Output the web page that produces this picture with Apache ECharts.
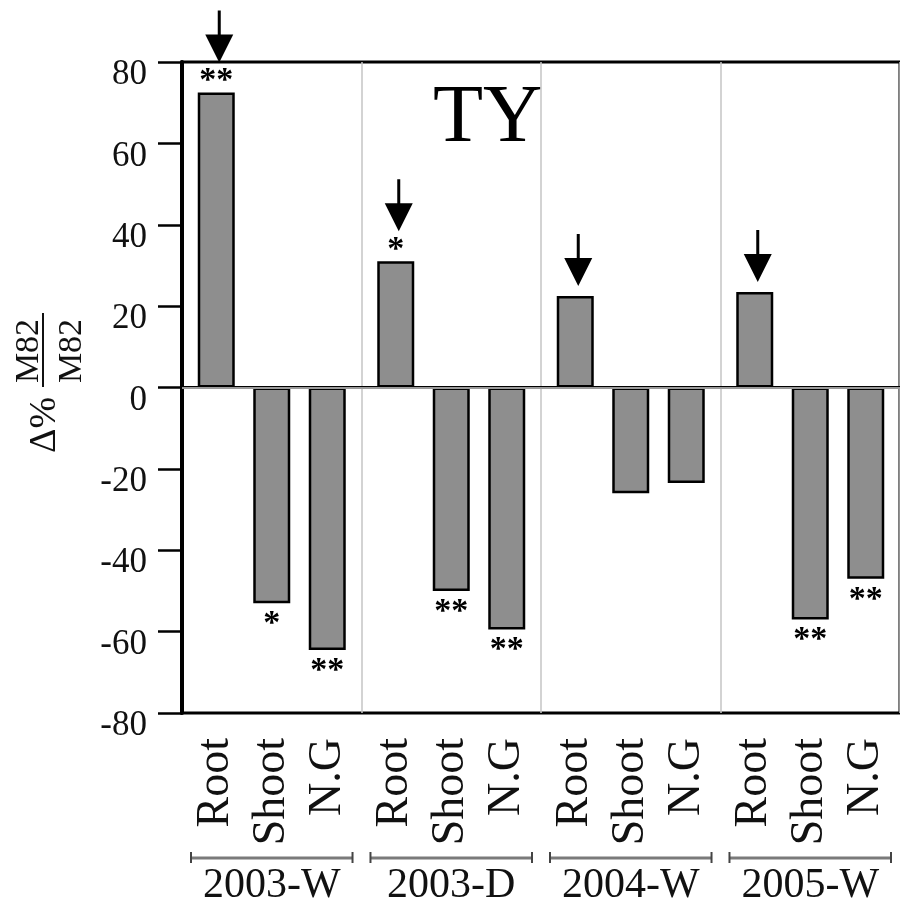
<!DOCTYPE html>
<html><head><meta charset="utf-8">
<script src="https://cdn.jsdelivr.net/npm/echarts@6/dist/echarts.min.js"></script>
<style>html,body{margin:0;padding:0;background:#fff}#c{width:900px;height:907px}</style>
</head><body><div id="c"></div>
<script>
// ---- data ----
const groups = ['2003-W', '2003-D', '2004-W', '2005-W'];
const parts = ['Root', 'Shoot', 'N.G'];
const rootVals = [72.5, 31, 22.5, 23.5];
const shootVals = [-53, -50, -26, -57];
const ngVals = [-64.5, -59.5, -23.5, -47];
const rootSig = ['**', '*', '', ''];
const shootSig = ['*', '**', '', '**'];
const ngSig = ['**', '**', '', '**'];
const yMin = -80, yMax = 80, yStep = 20;
const panelLabel = 'TY';

// ---- styles ----
const SERIF = "'Liberation Serif', 'Times New Roman', serif";
const INK = '#111';
const chart = echarts.init(document.getElementById('c'), null, {renderer: 'canvas'});

function items(vals, sig) {
  return vals.map((v, i) => ({
    value: v,
    label: {distance: v >= 0 ? -6 : 4, formatter: sig[i]}
  }));
}
function barSeries(name, vals, sig) {
  return {
    name, type: 'bar', xAxisIndex: 0, yAxisIndex: 0,
    barWidth: 37, barGap: '50%',
    itemStyle: {color: '#8e8e8e', borderColor: '#000', borderWidth: 2.5},
    label: {show: true, position: 'outside', fontFamily: SERIF, fontSize: 34,
            fontWeight: 'bold', color: '#000'},
    data: items(vals, sig)
  };
}

const arrowPath = 'path://M12.5,0 L15.5,0 L15.5,24 L28,24 L14,52 L0,24 L12.5,24 Z';
const rootSeries = barSeries('Root', rootVals, rootSig);
rootSeries.markPoint = {
  silent: true,
  symbol: arrowPath,
  symbolSize: [28, 52],
  itemStyle: {color: '#000'},
  label: {show: false},
  data: rootVals.map((v, i) => ({
    coord: [groups[i], v],
    symbolOffset: [3, -(26 + (rootSig[i] ? 30 : 10))]
  }))
};
const shootSeries = barSeries('Shoot', shootVals, shootSig);
shootSeries.markLine = {
  silent: true, symbol: 'none', label: {show: false},
  lineStyle: {color: '#9a9a9a', width: 2, type: 'solid'},
  data: [{yAxis: 0}]
};

chart.setOption({
  animation: false,
  backgroundColor: '#fff',
  title: {text: panelLabel, left: 428, top: 73,
          textStyle: {fontFamily: SERIF, fontSize: 82, fontWeight: 'normal', color: '#000'}},
  grid: {left: 182, top: 62, width: 721, height: 651,
         show: true, borderColor: '#000', borderWidth: 3, backgroundColor: 'transparent'},
  xAxis: [{
    type: 'category', data: groups, position: 'bottom',
    axisLine: {lineStyle: {color: '#000', width: 3}},
    axisTick: {show: false},
    splitLine: {show: true, interval: 0, lineStyle: {color: '#c4c4c4', width: 1.5}},
    axisLabel: {interval: 0, rotate: 90, margin: 25, fontFamily: SERIF, fontSize: 46,
                lineHeight: 56, color: INK, formatter: () => parts.join('\n')}
  }, {
    type: 'category', data: groups, position: 'bottom', offset: 150,
    axisLine: {show: false}, axisTick: {show: false}, splitLine: {show: false},
    axisLabel: {interval: 0, margin: 2, fontFamily: SERIF, fontSize: 42, color: INK}
  }],
  yAxis: {
    type: 'value', min: yMin, max: yMax, interval: yStep,
    axisLine: {show: true, lineStyle: {color: '#000', width: 4}},
    axisTick: {show: true, length: 24, lineStyle: {color: '#000', width: 2.5}},
    splitLine: {show: false},
    axisLabel: {margin: 35, fontFamily: SERIF, fontSize: 35, color: INK,
                verticalAlign: 'top', lineHeight: 26}
  },
  series: [rootSeries, shootSeries, barSeries('N.G', ngVals, ngSig)]
});

// group brackets and y-axis title
const c0 = chart.convertToPixel({xAxisIndex: 0}, groups[0]);
const c1 = chart.convertToPixel({xAxisIndex: 0}, groups[1]);
const half = (c1 - c0) * 0.45;
const yb = chart.convertToPixel({yAxisIndex: 0}, yMin) + 145;
const els = [];
groups.forEach(g => {
  const cx = chart.convertToPixel({xAxisIndex: 0}, g);
  els.push({type: 'line', silent: true,
    shape: {x1: cx - half, y1: yb, x2: cx + half, y2: yb},
    style: {stroke: '#7a7a7a', lineWidth: 3}});
  [cx - half, cx + half].forEach(x => els.push({type: 'line', silent: true,
    shape: {x1: x, y1: yb - 6, x2: x, y2: yb + 5},
    style: {stroke: '#444', lineWidth: 2}}));
});
els.push({
  type: 'group', x: 43, y: 425, rotation: Math.PI / 2, silent: true,
  children: [
    {type: 'text', x: 0, y: 2, style: {text: 'Δ%', fontFamily: SERIF, fontSize: 38,
      fill: INK, align: 'center', verticalAlign: 'middle'}},
    {type: 'line', shape: {x1: 38, y1: 0, x2: 112, y2: 0}, style: {stroke: INK, lineWidth: 2}},
    {type: 'text', x: 74, y: -14, style: {text: 'M82', fontFamily: SERIF, fontSize: 34,
      fill: INK, align: 'center', verticalAlign: 'middle'}},
    {type: 'text', x: 74, y: 29, style: {text: 'M82', fontFamily: SERIF, fontSize: 34,
      fill: INK, align: 'center', verticalAlign: 'middle'}}
  ]
});
chart.setOption({graphic: els});
</script>
</body></html>
